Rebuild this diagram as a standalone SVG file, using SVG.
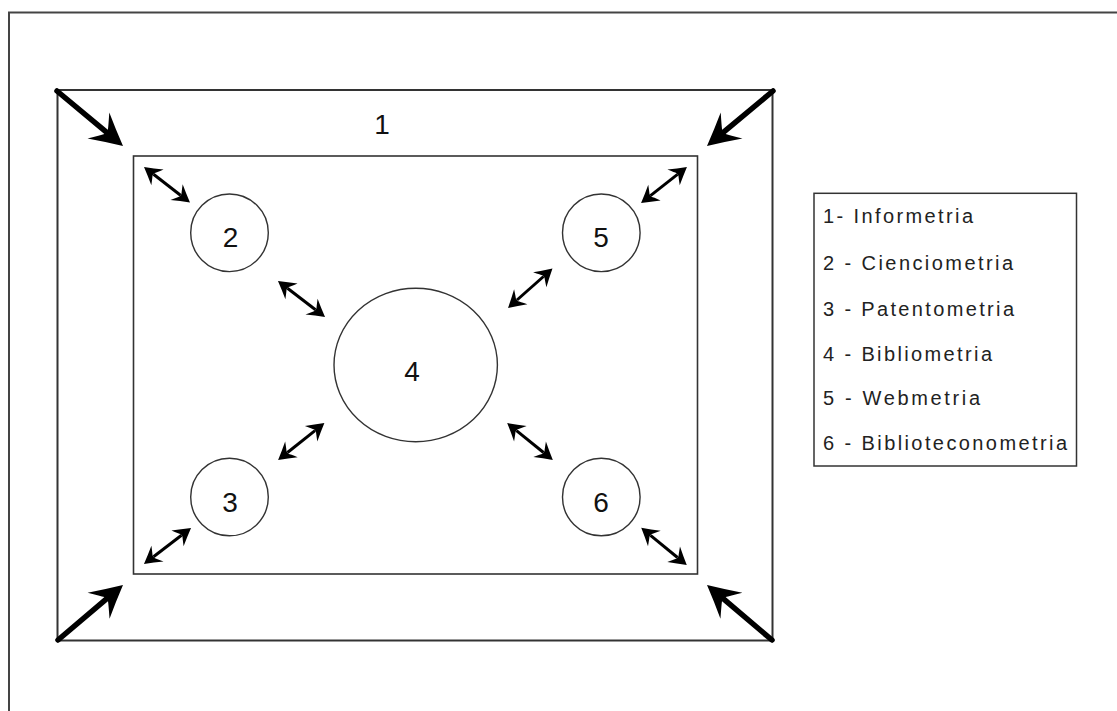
<svg xmlns="http://www.w3.org/2000/svg" width="1117" height="711" viewBox="0 0 1117 711">
<style>
.frame{fill:none;stroke:#444;stroke-width:2}
.box{fill:none;stroke:#333;stroke-width:2}
.inner{fill:none;stroke:#333;stroke-width:1.6}
.circ{fill:#fff;stroke:#333;stroke-width:1.4}
.num{font-family:"Liberation Sans",Arial,sans-serif;font-size:28px;fill:#111;text-anchor:middle}
.leg{font-family:"Liberation Sans",Arial,sans-serif;font-size:20px;fill:#222}
.big{stroke:#000;stroke-width:5.5;fill:none;marker-end:url(#bigHead)}
.small{stroke:#000;stroke-width:3;fill:none;marker-start:url(#smallHead);marker-end:url(#smallHead)}
</style>
<defs>
<marker id="bigHead" markerUnits="userSpaceOnUse" orient="auto" refX="0" refY="0" markerWidth="60" markerHeight="60" overflow="visible">
<path d="M22,0 Q6,-8 -10,-17 Q-2,-6 0,-2.8 L0,2.8 Q-2,6 -10,17 Q6,8 22,0 Z" fill="#000"/>
</marker>
<marker id="smallHead" markerUnits="userSpaceOnUse" orient="auto-start-reverse" refX="0" refY="0" markerWidth="40" markerHeight="40" overflow="visible">
<path d="M12,0 Q3,-5 -5,-10 Q-1,-3 0,-1.6 L0,1.6 Q-1,3 -5,10 Q3,5 12,0 Z" fill="#000"/>
</marker>
</defs>
<rect x="0" y="0" width="1117" height="711" fill="#fff"/>
<rect class="frame" x="9" y="12.5" width="1130" height="730"/>
<g id="node-1">
<rect class="box" x="57.5" y="90" width="715" height="550.5"/>
<text class="num" x="382" y="134">1</text>
</g>
<g id="inner-area">
<rect class="inner" x="133.5" y="156" width="564" height="418"/>
</g>
<g id="node-2">
<circle class="circ" cx="229.5" cy="232.8" r="38.8"/>
<text class="num" x="230.5" y="247">2</text>
</g>
<g id="node-5">
<circle class="circ" cx="601.3" cy="232.8" r="38.8"/>
<text class="num" x="601" y="247">5</text>
</g>
<g id="node-3">
<circle class="circ" cx="229.5" cy="497" r="38.8"/>
<text class="num" x="230" y="512">3</text>
</g>
<g id="node-6">
<circle class="circ" cx="601.3" cy="497" r="38.8"/>
<text class="num" x="601" y="512">6</text>
</g>
<g id="node-4">
<ellipse class="circ" cx="415.7" cy="365" rx="81.7" ry="76.7"/>
<text class="num" x="412" y="381">4</text>
</g>
<g id="connectors">
<line class="big" x1="57" y1="91" x2="106.1" y2="131.9" stroke-linecap="round"/>
<line class="big" x1="773" y1="91" x2="723.9" y2="131.9" stroke-linecap="round"/>
<line class="big" x1="58" y1="640" x2="106.2" y2="599.2" stroke-linecap="round"/>
<line class="big" x1="772" y1="640" x2="723.8" y2="599.2" stroke-linecap="round"/>
<line class="small" x1="153.5" y1="174.3" x2="180.5" y2="195.2"/>
<line class="small" x1="287.5" y1="288.3" x2="315.5" y2="309.7"/>
<line class="small" x1="677.5" y1="174.4" x2="650.5" y2="195.6"/>
<line class="small" x1="543.5" y1="276.5" x2="517" y2="300"/>
<line class="small" x1="287.5" y1="452.5" x2="315" y2="430.6"/>
<line class="small" x1="516.5" y1="430.6" x2="543.5" y2="452.5"/>
<line class="small" x1="153.5" y1="556.7" x2="181.5" y2="535.3"/>
<line class="small" x1="650.5" y1="535.3" x2="677.5" y2="557.5"/>
</g>
<g id="legend">
<rect x="814" y="193.3" width="262.5" height="272.7" fill="#fff" stroke="#333" stroke-width="1.5"/>
<text class="leg" x="823" y="223" textLength="150" lengthAdjust="spacing">1- Informetria</text>
<text class="leg" x="823" y="270" textLength="190" lengthAdjust="spacing">2 - Cienciometria</text>
<text class="leg" x="823" y="316" textLength="191" lengthAdjust="spacing">3 - Patentometria</text>
<text class="leg" x="823" y="361" textLength="169" lengthAdjust="spacing">4 - Bibliometria</text>
<text class="leg" x="823" y="405" textLength="157" lengthAdjust="spacing">5 - Webmetria</text>
<text class="leg" x="823" y="450" textLength="244" lengthAdjust="spacing">6 - Biblioteconometria</text>
</g>
</svg>
